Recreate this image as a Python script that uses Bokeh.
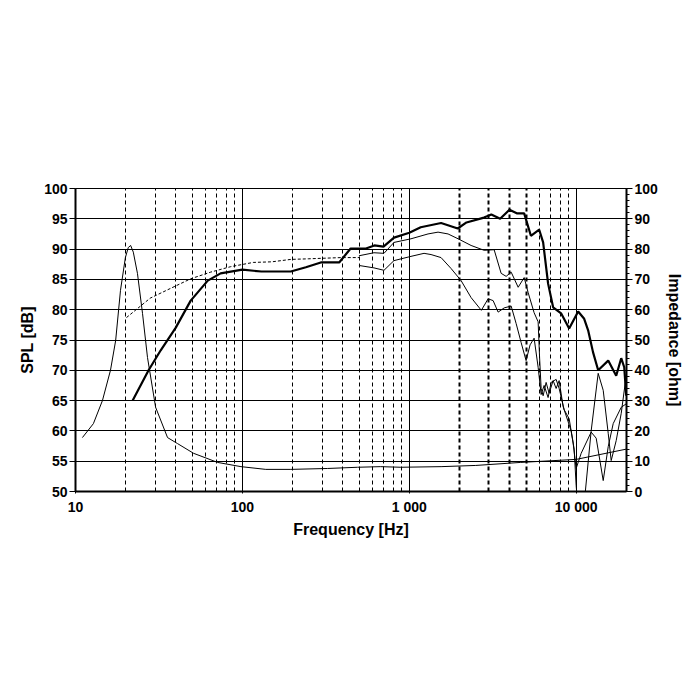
from bokeh.plotting import figure
from bokeh.models import Range1d, LinearAxis, FixedTicker, Grid
from bokeh.embed import file_html
from bokeh.resources import INLINE

# ---- data ----
x_ticks = [10, 100, 1000, 10000]
x_tick_labels = {10: "10", 100: "100", 1000: "1 000", 10000: "10 000"}
x_minor_grid = [20, 30, 40, 50, 60, 70, 80, 90,
                200, 300, 400, 500, 600, 700, 800, 900,
                6000, 7000, 8000, 9000]
x_minor_grid_bold = [2000, 3000, 4000, 5000]
spl_ticks = list(range(50, 101, 5))
imp_ticks = list(range(0, 101, 10))
imp_minor = list(range(0, 101, 2))

# on-axis SPL (thick)
a_freq = [22, 27.4, 32.4, 39.8, 49, 62, 74, 100, 130, 195, 240, 295, 380, 445,
          550, 617, 700, 810, 1000, 1170, 1550, 1950, 2200, 2800, 3100, 3500,
          3980, 4400, 4875, 5350, 5998, 6333, 6782, 7269, 8110, 9068, 10266,
          11155, 11780, 12600, 13532, 15541, 17351, 18596, 19383, 19926]
a_db = [65.0, 70.0, 73.3, 77.0, 81.5, 84.8, 86.0, 86.6, 86.3, 86.3, 87.0, 87.8,
        87.8, 90.1, 90.1, 90.6, 90.4, 91.9, 92.7, 93.6, 94.3, 93.4, 94.4, 95.2,
        95.7, 95.0, 96.5, 95.9, 95.9, 92.2, 93.2, 91.1, 84.3, 80.4, 79.4, 76.9,
        79.7, 78.5, 76.6, 73.0, 70.0, 71.6, 69.1, 72.0, 70.5, 65.8]

# off-axis SPL 1 (thin, upper)
b_freq = [499, 614, 705, 809, 1023, 1294, 1486, 1706, 1960, 2344, 2806, 3222,
          3548, 3802, 4074, 4487, 4875, 5152, 5592, 5910, 6033, 6160, 6333,
          6598, 6877, 7269, 7577, 7897, 8346, 8943, 9321, 9714, 9986, 10266,
          11155, 12285, 13532, 14504, 15541, 16194, 17351, 18596, 20000]
b_db = [88.9, 89.4, 89.3, 91.1, 91.7, 92.5, 92.8, 92.5, 91.7, 90.6, 89.8, 89.9,
        86.0, 85.5, 86.2, 83.7, 85.3, 82.8, 79.5, 78.0, 72.0, 67.0, 65.8,
        68.0, 66.2, 68.3, 67.0, 68.3, 64.0, 61.5, 60.0, 57.0, 51.0, 47.0,
        48.0, 60.0, 69.5, 66.7, 59.6, 55.1, 58.4, 62.9, 69.5]

# off-axis SPL 2 (thin, lower)
c_freq = [499, 614, 705, 809, 1023, 1225, 1349, 1549, 1778, 2042, 2344, 2700,
          2965, 3177, 3404, 3700, 4074, 4365, 4673, 5006, 5290, 5592, 5910,
          6160, 6421, 6782, 7071, 7577, 7897, 8462, 9068, 9581, 9986, 10700,
          12285, 13163, 14504, 15541, 16647, 18596, 20000]
c_db = [87.3, 86.9, 86.5, 88.1, 88.8, 89.3, 89.1, 88.6, 86.8, 84.8, 82.0, 79.9,
        81.8, 81.5, 79.6, 80.3, 80.6, 77.7, 74.6, 71.6, 74.2, 75.3, 70.5,
        66.0, 67.5, 65.5, 68.0, 68.5, 67.0, 63.5, 62.0, 58.0, 53.8, 56.3,
        59.8, 58.8, 51.8, 57.4, 61.2, 63.9, 64.5]

# low-frequency (dashed) SPL
d_freq = [20.2, 28, 37, 49, 64.5, 85, 116, 150, 195, 250, 390, 500]
d_db = [78.7, 81.9, 83.5, 85.1, 86.2, 87.1, 87.8, 87.9, 88.3, 88.4, 88.6, 88.6]

# impedance (ohm, right axis)
imp_freq = [11.0, 12.8, 14.5, 16.2, 17.4, 18.6, 19.9, 20.7, 21.4, 22.2, 23.5,
            25.2, 27.0, 30.2, 35.6, 40.9, 51, 71, 98, 138, 195, 324, 490, 670,
            890, 1550, 2500, 4650, 10000, 20000]
imp_ohm = [17.8, 22.4, 30.0, 40.0, 49.8, 66.4, 77.2, 80.5, 81.2, 79.0, 72.0,
           58.8, 44.2, 27.8, 17.8, 15.8, 12.6, 9.6, 8.2, 7.3, 7.3, 7.6, 8.0, 8.2,
           8.0, 8.2, 8.6, 9.6, 10.6, 14.0]

FONT = "Liberation Sans"

p = figure(width=692, height=692, x_axis_type="log",
           x_range=Range1d(10, 20000), y_range=Range1d(50, 100),
           output_backend="svg", toolbar_location=None,
           min_border_left=75, min_border_right=66,
           min_border_top=188, min_border_bottom=201)
p.background_fill_color = "white"
p.border_fill_color = "white"
p.outline_line_color = "black"
p.outline_line_width = 1
p.extra_y_ranges = {"imp": Range1d(0, 100)}

# grids
p.xgrid.ticker = FixedTicker(ticks=x_ticks, minor_ticks=[])
p.xgrid.grid_line_color = "black"
p.xgrid.grid_line_width = 1
p.ygrid.ticker = FixedTicker(ticks=spl_ticks, minor_ticks=[])
p.ygrid.grid_line_color = "black"
p.ygrid.grid_line_width = 1

g1 = Grid(dimension=0, ticker=FixedTicker(ticks=x_minor_grid, minor_ticks=[]),
          grid_line_color="black", grid_line_width=1, grid_line_dash="4 3")
g2 = Grid(dimension=0, ticker=FixedTicker(ticks=x_minor_grid_bold, minor_ticks=[]),
          grid_line_color="black", grid_line_width=2, grid_line_dash="4 3")
p.add_layout(g1)
p.add_layout(g2)

# x axis
xa = p.xaxis[0]
xa.ticker = FixedTicker(ticks=x_ticks, minor_ticks=[])
xa.major_label_overrides = x_tick_labels
xa.axis_label = "Frequency [Hz]"
xa.axis_line_width = 2
xa.axis_line_color = "black"
xa.major_tick_out = 2
xa.major_tick_in = 0
xa.minor_tick_out = 0
xa.major_label_standoff = 5
xa.axis_label_standoff = 3

# left y axis
ya = p.yaxis[0]
ya.ticker = FixedTicker(ticks=spl_ticks, minor_ticks=[])
ya.axis_label = "SPL [dB]"
ya.axis_line_width = 2
ya.major_tick_out = 6
ya.major_tick_in = 0
ya.minor_tick_out = 0
ya.major_label_standoff = 2
ya.axis_label_standoff = 5

# right y axis
ra = LinearAxis(y_range_name="imp",
                ticker=FixedTicker(ticks=imp_ticks, minor_ticks=imp_minor),
                axis_label="Impedance [ohm]")
ra.axis_line_width = 2
ra.major_tick_out = 6
ra.major_tick_in = 0
ra.minor_tick_out = 3
ra.minor_tick_in = 0
ra.major_label_standoff = 2
ra.axis_label_standoff = 5
p.add_layout(ra, "right")

for ax in (xa, ya, ra):
    ax.major_label_text_font = FONT
    ax.major_label_text_font_style = "bold"
    ax.major_label_text_font_size = "14px"
    ax.major_label_text_color = "black"
    ax.axis_label_text_font = FONT
    ax.axis_label_text_font_style = "bold"
    ax.axis_label_text_font_size = "16px"
    ax.axis_label_text_color = "black"
    ax.major_tick_line_color = "black"
    ax.minor_tick_line_color = "black"

# curves
p.line(imp_freq, imp_ohm, y_range_name="imp", line_color="black", line_width=1)
p.line(d_freq, d_db, line_color="black", line_width=1, line_dash="3 2")
p.line(c_freq, c_db, line_color="black", line_width=1)
p.line(b_freq, b_db, line_color="black", line_width=1)
p.line(a_freq, a_db, line_color="black", line_width=2.2)

open("out.html", "w").write(file_html(p, INLINE))
